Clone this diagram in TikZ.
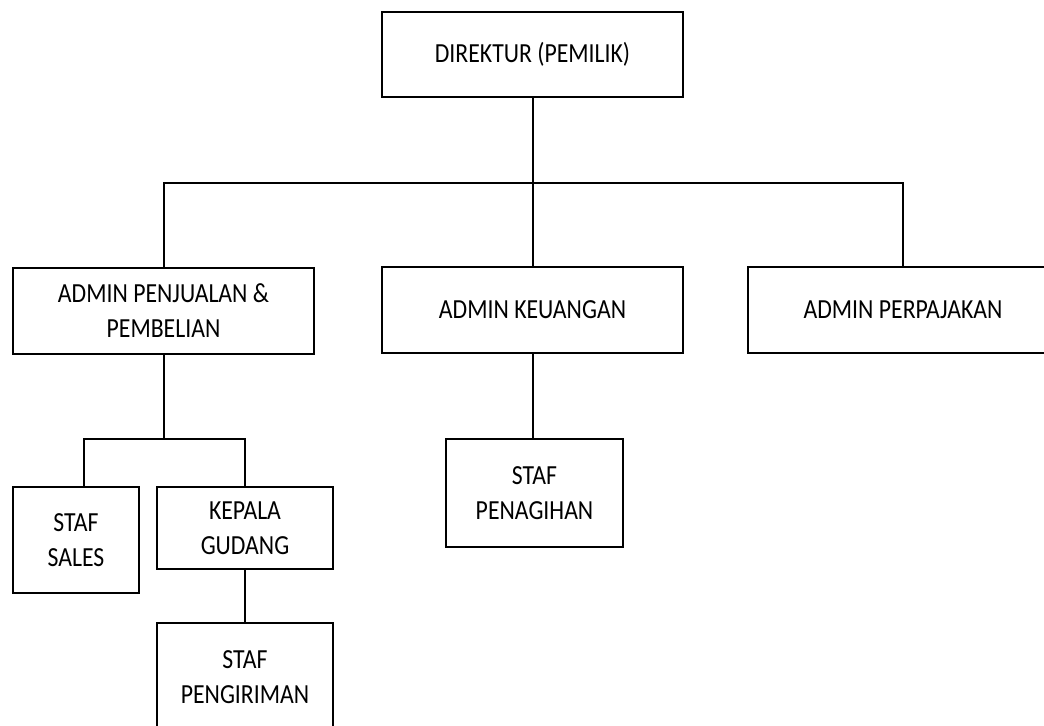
\documentclass[tikz,border=0pt]{standalone}
\usepackage{fontspec}
\setmainfont[FakeStretch=0.86]{Carlito}
\tikzstyle{jabatan}=[draw, line width=1pt, align=center, inner sep=0pt,
font=\fontsize{13.8}{17.5}\selectfont]
\tikzstyle{garis}=[line width=1pt]

\begin{document}
\begin{tikzpicture}[x=0.5pt,y=-0.5pt]
\clip (0,0) rectangle (1044,725);
\node[jabatan, minimum width=150.5pt, minimum height=42.5pt](dir) at (532.5,54.5){DIREKTUR (PEMILIK)};
\node[jabatan, minimum width=150.5pt, minimum height=43pt](adminjb) at (163.5,311){ADMIN PENJUALAN \&\\PEMBELIAN};
\node[jabatan, minimum width=150.5pt, minimum height=43pt](adminku) at (532.5,310){ADMIN KEUANGAN};
\node[jabatan, minimum width=155pt, minimum height=43pt](adminpj) at (903,310){ADMIN PERPAJAKAN};
\node[jabatan, minimum width=63pt, minimum height=53pt](sales) at (76,540){STAF\\SALES};
\node[jabatan, minimum width=88pt, minimum height=41pt](gudang) at (245,528){KEPALA\\GUDANG};
\node[jabatan, minimum width=88pt, minimum height=54.5pt](kirim) at (245,677.5){STAF\\PENGIRIMAN};
\node[jabatan, minimum width=88.5pt, minimum height=54pt](tagih) at (534.5,493){STAF\\PENAGIHAN};
\coordinate (cabang1) at (532.5,183);
\coordinate (cabang2) at (163.5,439);
\draw [garis](dir) -- (cabang1);
\draw [garis](adminjb.north) |- (cabang1) -| (adminpj.north);
\draw [garis](cabang1) -- (adminku.north);
\draw [garis](adminjb) -- (cabang2);
\draw [garis]([xshift=4pt]sales.north) |- (cabang2) -| (gudang.north);
\draw [garis](gudang) -- (kirim);
\draw [garis](adminku) -- (tagih.north -| adminku.south);
\end{tikzpicture}
\end{document}
